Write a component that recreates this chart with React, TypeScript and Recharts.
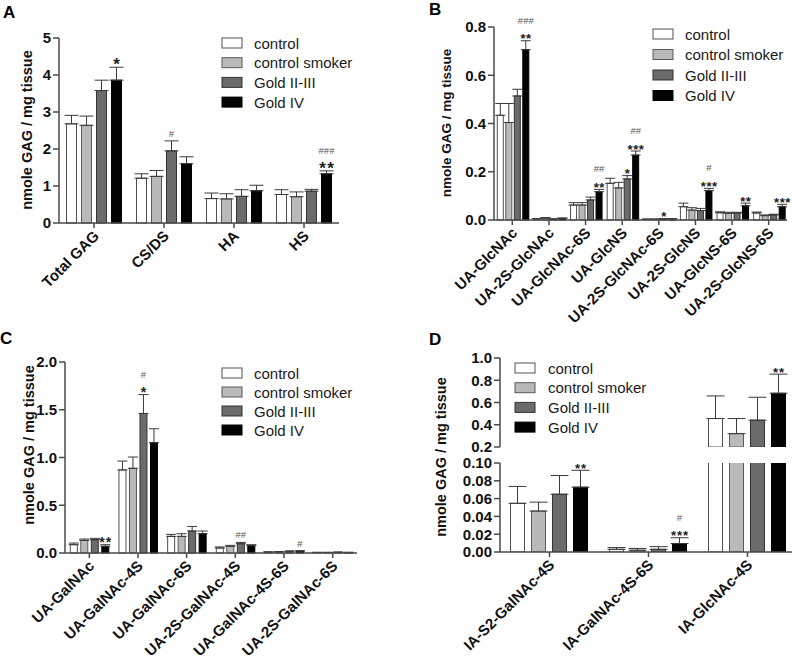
import React from "react";
import { BarChart, Bar, XAxis, YAxis, ErrorBar } from "recharts";

const FONT = '"Liberation Sans", Arial, Helvetica, sans-serif';

const groups = ["control", "control smoker", "Gold II-III", "Gold IV"];
const fills = ["#ffffff", "#b9b9b9", "#6b6b6b", "#030303"];
const strokes = ["#505050", "#5a5a5a", "#333333", "#000000"];

// A: GAG classes
const catsA = ["Total GAG", "CS/DS", "HA", "HS"];
const ctrlA = [2.68, 1.21, 0.66, 0.77];
const smokA = [2.64, 1.26, 0.65, 0.71];
const g23A = [3.58, 1.95, 0.72, 0.86];
const g4A = [3.86, 1.6, 0.87, 1.33];
const ctrlErrA = [0.23, 0.12, 0.15, 0.13];
const smokErrA = [0.25, 0.16, 0.14, 0.13];
const g23ErrA = [0.28, 0.27, 0.18, 0.05];
const g4ErrA = [0.35, 0.19, 0.15, 0.08];

// B: HS disaccharides
const catsB = [
  "UA-GlcNAc",
  "UA-2S-GlcNAc",
  "UA-GlcNAc-6S",
  "UA-GlcNS",
  "UA-2S-GlcNAc-6S",
  "UA-2S-GlcNS",
  "UA-GlcNS-6S",
  "UA-2S-GlcNS-6S",
];
const ctrlB = [0.434, 0.005, 0.062, 0.152, 0.003, 0.055, 0.03, 0.029];
const smokB = [0.404, 0.008, 0.062, 0.133, 0.003, 0.041, 0.028, 0.018];
const g23B = [0.514, 0.004, 0.083, 0.17, 0.005, 0.039, 0.029, 0.021];
const g4B = [0.706, 0.007, 0.117, 0.269, 0.004, 0.122, 0.059, 0.055];
const ctrlErrB = [0.049, 0.001, 0.01, 0.021, 0.001, 0.015, 0.004, 0.004];
const smokErrB = [0.079, 0.002, 0.01, 0.023, 0.001, 0.01, 0.004, 0.003];
const g23ErrB = [0.028, 0.001, 0.012, 0.014, 0.001, 0.009, 0.003, 0.003];
const g4ErrB = [0.037, 0.001, 0.01, 0.017, 0.001, 0.009, 0.011, 0.01];

// C: CS/DS disaccharides
const catsC = [
  "UA-GalNAc",
  "UA-GalNAc-4S",
  "UA-GalNAc-6S",
  "UA-2S-GalNAc-4S",
  "UA-GalNAc-4S-6S",
  "UA-2S-GalNAc-6S",
];
const ctrlC = [0.087, 0.87, 0.174, 0.052, 0.01, 0.006];
const smokC = [0.132, 0.887, 0.174, 0.07, 0.012, 0.006];
const g23C = [0.139, 1.461, 0.23, 0.097, 0.018, 0.008];
const g4C = [0.07, 1.155, 0.202, 0.077, 0.02, 0.006];
const ctrlErrC = [0.017, 0.093, 0.021, 0.011, 0.002, 0.001];
const smokErrC = [0.014, 0.118, 0.028, 0.01, 0.002, 0.001];
const g23ErrC = [0.014, 0.198, 0.048, 0.014, 0.003, 0.001];
const g4ErrC = [0.017, 0.146, 0.028, 0.01, 0.003, 0.001];

// D: IA disaccharides (broken axis)
const catsD = ["IA-S2-GalNAc-4S", "IA-GalNAc-4S-6S", "IA-GlcNAc-4S"];
const ctrlD = [0.0547, 0.003, 0.456];
const smokD = [0.046, 0.002, 0.32];
const g23D = [0.0649, 0.003, 0.441];
const g4D = [0.0728, 0.0094, 0.683];
const ctrlErrD = [0.019, 0.002, 0.203];
const smokErrD = [0.01, 0.002, 0.136];
const g23ErrD = [0.021, 0.003, 0.206];
const g4ErrD = [0.019, 0.0066, 0.172];

// [category, series, stars, hashes]
type Note = [number, number, string, string];
const notesA: Note[] = [
  [0, 3, "*", ""],
  [1, 2, "", "#"],
  [3, 3, "**", "###"],
];
const notesB: Note[] = [
  [0, 3, "**", "###"],
  [2, 3, "**", "##"],
  [3, 2, "*", ""],
  [3, 3, "***", "##"],
  [4, 2, "*", ""],
  [5, 3, "***", "#"],
  [6, 3, "**", ""],
  [7, 3, "***", ""],
];
const notesC: Note[] = [
  [0, 3, "**", ""],
  [1, 2, "*", "#"],
  [3, 2, "", "##"],
  [4, 3, "", "#"],
];
const notesD: Note[] = [
  [0, 3, "**", ""],
  [1, 3, "***", "#"],
  [2, 3, "**", ""],
];

function buildRows(
  cats: string[],
  means: number[][],
  errs: number[][],
  lo = -Infinity,
  hi = Infinity
) {
  return cats.map((cat, i) => {
    const row: Record<string, any> = { cat };
    means.forEach((m, s) => {
      const v = m[i];
      row[`v${s}`] = v > lo ? v : null;
      if (v > lo && v <= hi) row[`e${s}`] = [0, errs[s][i]];
    });
    return row;
  });
}

const axisStyle = { stroke: "#4a4a4a", strokeWidth: 1.5 };

const SlantTick = (props: any) => {
  const { x, y, payload, size } = props;
  const ax = x + 2;
  const ay = y + 3;
  return (
    <text
      x={ax}
      y={ay}
      transform={`rotate(-45 ${ax} ${ay})`}
      textAnchor="end"
      dominantBaseline="central"
      fontSize={size}
      fontWeight="bold"
      fill="#111"
      fontFamily={FONT}
    >
      {payload.value}
    </text>
  );
};

type PanelCfg = {
  left: number;
  top: number;
  width: number;
  height: number;
  margin: { top: number; right: number; bottom: number; left: number };
  yWidth: number;
  xHeight: number;
  hideX?: boolean;
  clip?: boolean;
  domain: [number, number];
  ticks: number[];
  digits: number;
  gap: number;
  barGap: number;
  cap: number;
  xFont: number;
  starFont: number;
  starSpacing: number;
  cats: string[];
  rows: Record<string, any>[];
  errs: number[][];
  notes: Note[];
};

function NotedBar(props: any) {
  const { x, y, width, height, fill, stroke, payload, value, s, cfg, ppu } = props;
  if (x == null || y == null || value == null) return null;
  const v = Array.isArray(value) ? value[1] : value;
  const ci = (cfg.cats as string[]).indexOf(payload?.cat);
  const note = (cfg.notes as Note[]).find((n) => n[0] === ci && n[1] === s);
  let label = null;
  if (note) {
    const base = cfg.domain[0] > 0 ? cfg.domain[0] : 0;
    const errTop = y + height - (v + cfg.errs[s][ci] - base) * ppu;
    const cx = x + width / 2;
    const [stars, hashes] = [note[2], note[3]];
    label = (
      <g fontFamily={FONT}>
        {stars && (
          <text
            x={cx + cfg.starSpacing / 2}
            y={errTop + 1 + cfg.starFont * 0.12}
            textAnchor="middle"
            fontSize={cfg.starFont}
            fontWeight="bold"
            fill="#222"
            letterSpacing={cfg.starSpacing}
          >
            {stars}
          </text>
        )}
        {hashes && (
          <text
            x={cx}
            y={stars ? errTop - 17 : errTop - 4}
            textAnchor="middle"
            fontSize={9.5}
            fill="#555"
          >
            {hashes}
          </text>
        )}
      </g>
    );
  }
  return (
    <g>
      <rect
        x={x}
        y={y}
        width={width}
        height={Math.max(height, 0)}
        fill={fill}
        stroke={stroke}
        strokeWidth={1}
      />
      {label}
    </g>
  );
}

function GroupChart({ cfg }: { cfg: PanelCfg }) {
  const plotH =
    cfg.height - cfg.margin.top - cfg.margin.bottom - (cfg.hideX ? 0 : cfg.xHeight);
  const ppu = plotH / (cfg.domain[1] - cfg.domain[0]);
  return (
    <div style={{ position: "absolute", left: cfg.left, top: cfg.top }}>
      <BarChart
        width={cfg.width}
        height={cfg.height}
        data={cfg.rows}
        margin={cfg.margin}
        barCategoryGap={cfg.gap}
        barGap={cfg.barGap}
      >
        <XAxis
          dataKey="cat"
          hide={cfg.hideX}
          height={cfg.xHeight}
          interval={0}
          tickSize={5}
          tick={<SlantTick size={cfg.xFont} />}
          axisLine={axisStyle}
          tickLine={axisStyle}
        />
        <YAxis
          width={cfg.yWidth}
          domain={cfg.domain}
          ticks={cfg.ticks}
          allowDataOverflow={!!cfg.clip}
          interval={0}
          tickSize={6}
          tickFormatter={(t: number) => t.toFixed(cfg.digits)}
          tick={{ fontSize: 15, fontWeight: "bold", fill: "#111", fontFamily: FONT }}
          axisLine={axisStyle}
          tickLine={axisStyle}
        />
        {fills.map((f, s) => (
          <Bar
            key={s}
            dataKey={`v${s}`}
            fill={f}
            stroke={strokes[s]}
            isAnimationActive={false}
            shape={(bp: any) => <NotedBar {...bp} s={s} cfg={cfg} ppu={ppu} />}
          >
            <ErrorBar
              dataKey={`e${s}`}
              width={cfg.cap}
              stroke="#3a3a3a"
              strokeWidth={1}
              direction="y"
              isAnimationActive={false}
            />
          </Bar>
        ))}
      </BarChart>
    </div>
  );
}

const panelA: PanelCfg = {
  left: 0,
  top: 0,
  width: 360,
  height: 330,
  margin: { top: 38, right: 21, bottom: 7, left: 19 },
  yWidth: 40,
  xHeight: 100,
  domain: [0, 5],
  ticks: [0, 1, 2, 3, 4, 5],
  digits: 0,
  gap: 7.5,
  barGap: 5,
  cap: 7,
  xFont: 15,
  starFont: 17,
  starSpacing: 1.5,
  cats: catsA,
  rows: buildRows(catsA, [ctrlA, smokA, g23A, g4A], [ctrlErrA, smokErrA, g23ErrA, g4ErrA]),
  errs: [ctrlErrA, smokErrA, g23ErrA, g4ErrA],
  notes: notesA,
};

const panelB: PanelCfg = {
  left: 400,
  top: 0,
  width: 392,
  height: 330,
  margin: { top: 27, right: 5, bottom: 10, left: 54 },
  yWidth: 40,
  xHeight: 100,
  domain: [0, 0.8],
  ticks: [0, 0.2, 0.4, 0.6, 0.8],
  digits: 1,
  gap: 3.3,
  barGap: 2.5,
  cap: 5,
  xFont: 15,
  starFont: 13,
  starSpacing: 0.5,
  cats: catsB,
  rows: buildRows(catsB, [ctrlB, smokB, g23B, g4B], [ctrlErrB, smokErrB, g23ErrB, g4ErrB]),
  errs: [ctrlErrB, smokErrB, g23ErrB, g4ErrB],
  notes: notesB,
};

const panelC: PanelCfg = {
  left: 0,
  top: 330,
  width: 380,
  height: 328,
  margin: { top: 32, right: 23, bottom: 5, left: 25 },
  yWidth: 40,
  xHeight: 100,
  domain: [0, 2],
  ticks: [0, 0.5, 1, 1.5, 2],
  digits: 1,
  gap: 5.3,
  barGap: 3.5,
  cap: 5,
  xFont: 15,
  starFont: 14,
  starSpacing: 1,
  cats: catsC,
  rows: buildRows(catsC, [ctrlC, smokC, g23C, g4C], [ctrlErrC, smokErrC, g23ErrC, g4ErrC]),
  errs: [ctrlErrC, smokErrC, g23ErrC, g4ErrC],
  notes: notesC,
};

const meansD = [ctrlD, smokD, g23D, g4D];
const errsD = [ctrlErrD, smokErrD, g23ErrD, g4ErrD];

// lower segment of the broken axis, 0 - 0.10
const panelDLow: PanelCfg = {
  left: 400,
  top: 450,
  width: 400,
  height: 208,
  margin: { top: 13, right: 3, bottom: 6, left: 45 },
  yWidth: 55,
  xHeight: 100,
  clip: true,
  domain: [0, 0.1],
  ticks: [0, 0.02, 0.04, 0.06, 0.08, 0.1],
  digits: 2,
  gap: 10.5,
  barGap: 7,
  cap: 9,
  xFont: 15,
  starFont: 13,
  starSpacing: 1,
  cats: catsD,
  rows: buildRows(catsD, meansD, errsD, -Infinity, 0.1),
  errs: errsD,
  notes: notesD.filter((n) => meansD[n[1]][n[0]] <= 0.1),
};

// upper segment, 0.2 - 1.0
const panelDHigh: PanelCfg = {
  left: 400,
  top: 340,
  width: 400,
  height: 115,
  margin: { top: 18, right: 3, bottom: 8, left: 45 },
  yWidth: 55,
  xHeight: 0,
  hideX: true,
  clip: true,
  domain: [0.2, 1],
  ticks: [0.2, 0.4, 0.6, 0.8, 1],
  digits: 1,
  gap: 10.5,
  barGap: 7,
  cap: 9,
  xFont: 15,
  starFont: 13,
  starSpacing: 1,
  cats: catsD,
  rows: buildRows(catsD, meansD, errsD, 0.2, Infinity),
  errs: errsD,
  notes: notesD.filter((n) => meansD[n[1]][n[0]] > 0.2),
};

type LegendCfg = { x: number; y: number; dy: number; textX: number };
const legends: LegendCfg[] = [
  { x: 222, y: 43, dy: 19.7, textX: 254 },
  { x: 653, y: 34, dy: 20.5, textX: 685 },
  { x: 222, y: 373, dy: 19, textX: 254 },
  { x: 515, y: 368, dy: 19.7, textX: 548 },
];

const letters = [
  { t: "A", x: 3, y: 18 },
  { t: "B", x: 429, y: 15 },
  { t: "C", x: 0, y: 344 },
  { t: "D", x: 429, y: 345 },
];

const yTitles = [
  { x: 27, y: 130, size: 14.5 },
  { x: 446, y: 123, size: 13.5 },
  { x: 29, y: 445, size: 14.5 },
  { x: 441, y: 457, size: 14.5 },
];

export default function App() {
  return (
    <div
      style={{
        position: "fixed",
        left: 0,
        top: 0,
        width: 792,
        height: 658,
        overflow: "hidden",
        background: "#fff",
        fontFamily: FONT,
      }}
    >
      <GroupChart cfg={panelA} />
      <GroupChart cfg={panelB} />
      <GroupChart cfg={panelC} />
      <GroupChart cfg={panelDHigh} />
      <GroupChart cfg={panelDLow} />
      <svg
        width={792}
        height={658}
        style={{ position: "absolute", left: 0, top: 0, pointerEvents: "none" }}
        fontFamily={FONT}
      >
        {letters.map((l) => (
          <text key={l.t} x={l.x} y={l.y} fontSize={17} fontWeight="bold" fill="#000">
            {l.t}
          </text>
        ))}
        {yTitles.map((t, i) => (
          <text
            key={i}
            x={t.x}
            y={t.y}
            transform={`rotate(-90 ${t.x} ${t.y})`}
            textAnchor="middle"
            dominantBaseline="central"
            fontSize={t.size}
            fontWeight="bold"
            fill="#111"
          >
            nmole GAG / mg tissue
          </text>
        ))}
        {legends.map((lg, k) => (
          <g key={k}>
            {groups.map((g, s) => (
              <g key={g}>
                <rect
                  x={lg.x}
                  y={lg.y + s * lg.dy - 5}
                  width={20}
                  height={10}
                  fill={fills[s]}
                  stroke={strokes[s]}
                  strokeWidth={1}
                />
                <text
                  x={lg.textX}
                  y={lg.y + s * lg.dy}
                  dominantBaseline="central"
                  fontSize={15}
                  fill="#1a1a1a"
                >
                  {g}
                </text>
              </g>
            ))}
          </g>
        ))}
      </svg>
    </div>
  );
}
